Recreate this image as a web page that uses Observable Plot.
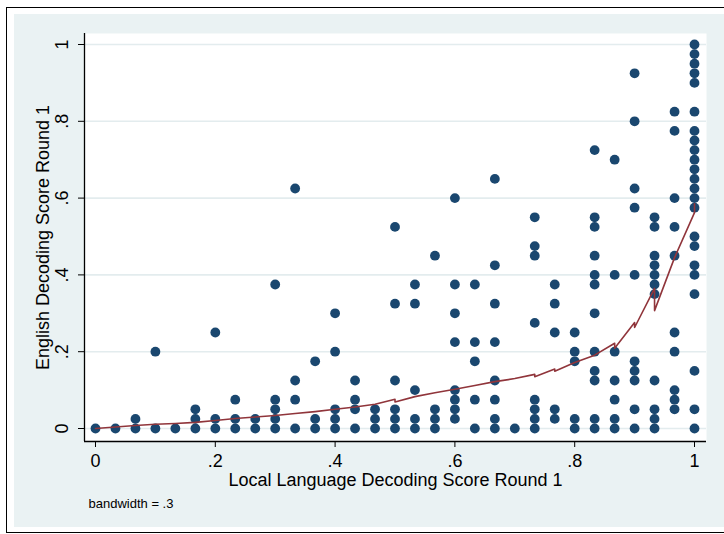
<!DOCTYPE html>
<html><head><meta charset="utf-8">
<script src="https://cdn.jsdelivr.net/npm/d3@7"></script>
<script src="https://cdn.jsdelivr.net/npm/@observablehq/plot@0.6"></script>
<style>
body{margin:0;background:#fff;}
#page{position:relative;width:724px;height:534px;overflow:hidden;font-family:"Liberation Sans",Arial,sans-serif;}
#border{position:absolute;left:6px;top:7px;width:760px;height:526px;border:1.4px solid #000;box-sizing:border-box;}
#bg{position:absolute;left:14px;top:14px;width:760px;height:513px;background:#EAF2F3;}
#chart{position:absolute;left:0;top:0;}
</style></head>
<body><div id="page"><div id="border"></div><div id="bg"></div><div id="chart"></div></div>
<script>
// x values (Local Language Decoding Score Round 1), one per column of points
const xCols = [0, 0.0333, 0.0667, 0.1, 0.1333, 0.1667, 0.2, 0.2333, 0.2667, 0.3,
  0.3333, 0.3667, 0.4, 0.4333, 0.4667, 0.5, 0.5333, 0.5667, 0.6, 0.6333,
  0.6667, 0.7, 0.7333, 0.7667, 0.8, 0.8333, 0.8667, 0.9, 0.9333, 0.9667, 1];
// English Decoding Score Round 1 values observed at each x column
const yByCol = [
  [0],
  [0],
  [0, 0.025],
  [0, 0.2],
  [0],
  [0, 0.025, 0.05],
  [0, 0.025, 0.25],
  [0, 0.025, 0.075],
  [0, 0.025],
  [0, 0.025, 0.05, 0.075, 0.375],
  [0, 0.075, 0.125, 0.625],
  [0, 0.025, 0.175],
  [0, 0.025, 0.05, 0.2, 0.3],
  [0, 0.05, 0.075, 0.125],
  [0, 0.025, 0.05],
  [0, 0.025, 0.05, 0.125, 0.325, 0.525],
  [0, 0.025, 0.1, 0.325, 0.375],
  [0, 0.025, 0.05, 0.45],
  [0.025, 0.05, 0.075, 0.1, 0.225, 0.3, 0.375, 0.6],
  [0, 0.075, 0.175, 0.225, 0.375],
  [0, 0.025, 0.075, 0.125, 0.225, 0.325, 0.425, 0.65],
  [0],
  [0, 0.025, 0.05, 0.075, 0.275, 0.45, 0.475, 0.55],
  [0.025, 0.05, 0.25, 0.325, 0.375],
  [0, 0.025, 0.175, 0.2, 0.25],
  [0, 0.025, 0.125, 0.15, 0.2, 0.3, 0.375, 0.4, 0.45, 0.525, 0.55, 0.725],
  [0, 0.025, 0.075, 0.125, 0.2, 0.4, 0.7],
  [0, 0.05, 0.125, 0.15, 0.175, 0.4, 0.575, 0.625, 0.8, 0.925],
  [0, 0.025, 0.05, 0.125, 0.35, 0.375, 0.4, 0.425, 0.45, 0.525, 0.55],
  [0.05, 0.075, 0.1, 0.2, 0.25, 0.45, 0.525, 0.6, 0.775, 0.825],
  [0, 0.05, 0.15, 0.35, 0.4, 0.425, 0.475, 0.5, 0.575, 0.6, 0.625, 0.65, 0.675, 0.7, 0.725, 0.75, 0.775, 0.825, 0.9, 0.925, 0.95, 0.975, 1]
];
// lowess smooth (bandwidth .3), in drawing order
const lowessX = [0, 0.0333, 0.0667, 0.1, 0.1333, 0.1667, 0.2, 0.2333, 0.2667, 0.3,
  0.3333, 0.3667, 0.4, 0.4333, 0.4667, 0.5, 0.5, 0.5333, 0.5667, 0.6, 0.6333, 0.6667, 0.7,
  0.7333, 0.7333, 0.7667, 0.7667, 0.8, 0.8333, 0.8667, 0.8667, 0.9, 0.9, 0.9333, 0.9333, 0.9667, 1, 1];
const lowessY = [0, 0.004, 0.008, 0.011, 0.013, 0.016, 0.021, 0.026, 0.030, 0.034,
  0.039, 0.044, 0.050, 0.056, 0.063, 0.076, 0.069, 0.083, 0.093, 0.102, 0.112, 0.122, 0.130,
  0.141, 0.135, 0.155, 0.149, 0.172, 0.191, 0.222, 0.209, 0.276, 0.263, 0.365, 0.307, 0.445, 0.562, 0.585];
const xTicks = [0, 0.2, 0.4, 0.6, 0.8, 1];
const yTicks = [0, 0.2, 0.4, 0.6, 0.8, 1];
const xTitle = "Local Language Decoding Score Round 1";
const yTitle = "English Decoding Score Round 1";
const note = "bandwidth = .3";

const points = xCols.flatMap((x, i) => yByCol[i].map(y => ({x, y})));
const smooth = lowessX.map((x, i) => ({x, y: lowessY[i]}));
const fmt = d => d === 0 ? "0" : d === 1 ? "1" : String(d).replace(/^0/, "");

const xDomain = [-0.01836, 1.02003];
const yDomain = [-0.03385, 1.02865];

const chart = Plot.plot({
  width: 724, height: 534,
  marginLeft: 84, marginRight: 18, marginTop: 33, marginBottom: 93,
  x: {domain: xDomain},
  y: {domain: yDomain},
  style: {background: "transparent", fontFamily: "'Liberation Sans', Arial, sans-serif", fontSize: "18px", color: "#000"},
  marks: [
    Plot.frame({fill: "white", stroke: null}),
    Plot.gridY(yTicks, {stroke: "#E3ECEE", strokeOpacity: 1, strokeWidth: 1.6}),
    Plot.ruleX([xDomain[0]], {stroke: "#000", strokeWidth: 1.3}),
    Plot.ruleY([yDomain[0]], {stroke: "#000", strokeWidth: 1.3}),
    Plot.axisX({ticks: xTicks, tickSize: 6, tickPadding: 7, tickFormat: fmt, label: null, fontSize: 18, stroke: "#000"}),
    Plot.axisY({ticks: yTicks, tickSize: 6, tickFormat: () => "", label: null, stroke: "#000"}),
    Plot.text(yTicks, {y: d => d, frameAnchor: "left", dx: -22, rotate: -90, text: fmt, fontSize: 18, textAnchor: "middle", lineAnchor: "middle", fill: "#000"}),
    Plot.text([xTitle], {frameAnchor: "bottom", dy: 39, fontSize: 18, textAnchor: "middle", lineAnchor: "middle", fill: "#000"}),
    Plot.text([yTitle], {frameAnchor: "left", dx: -41, rotate: -90, fontSize: 18, textAnchor: "middle", lineAnchor: "middle", fill: "#000"}),
    Plot.text([note], {frameAnchor: "bottom-left", dx: 4, dy: 62, fontSize: 13, textAnchor: "start", lineAnchor: "middle", fill: "#000"}),
    Plot.dot(points, {x: "x", y: "y", r: 4.9, fill: "#1A476F", stroke: "none"}),
    Plot.line(smooth, {x: "x", y: "y", stroke: "#90353B", strokeWidth: 1.6})
  ]
});
document.getElementById("chart").appendChild(chart);
</script>
</body></html>
